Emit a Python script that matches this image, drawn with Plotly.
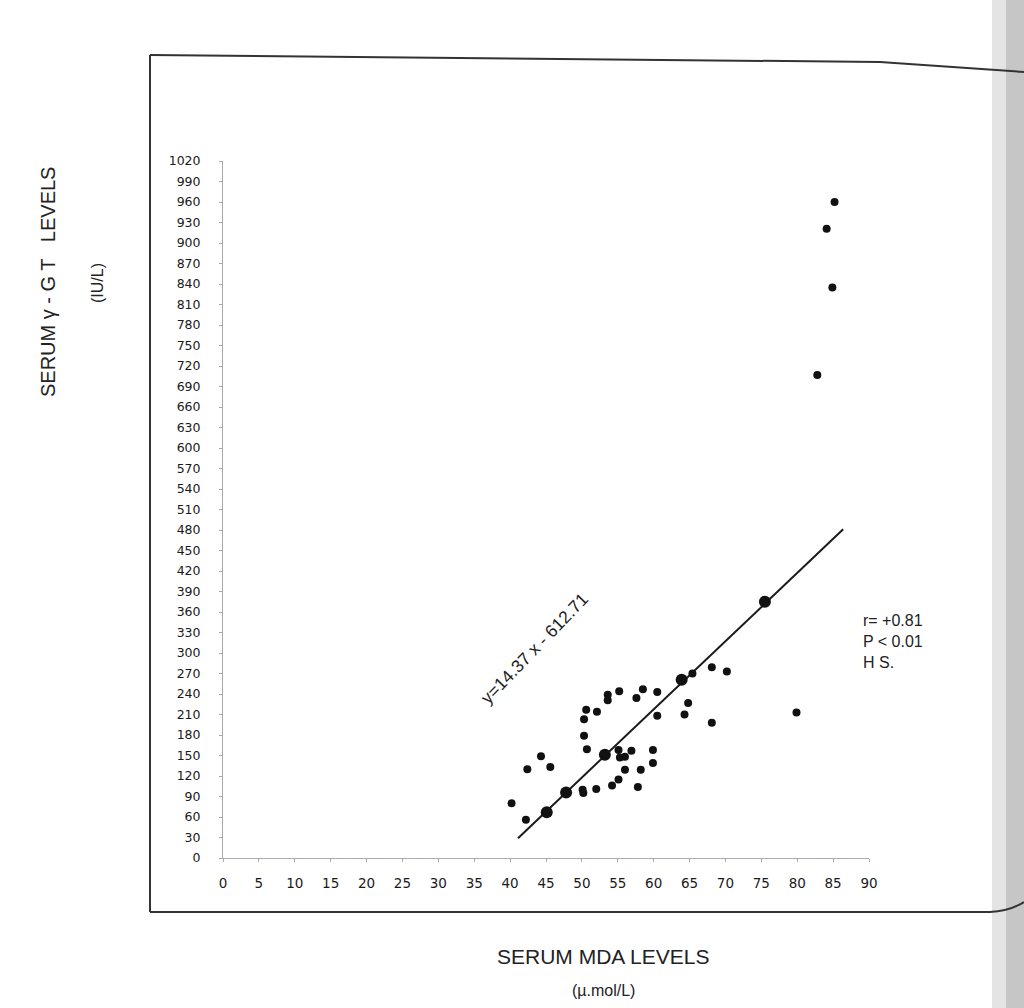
import plotly.graph_objects as go

# Data
mda = [40.2, 42.2, 42.4, 44.3, 45.6, 50.1, 50.2, 52.0, 50.6, 50.3, 52.1, 50.3, 50.7,
       53.6, 53.6, 55.2, 55.1, 55.3, 56.0, 56.9, 56.0, 55.1, 54.2, 57.8, 58.2, 57.6,
       58.5, 60.5, 59.9, 59.9, 60.5, 64.8, 64.3, 65.4, 68.1, 70.2, 68.1, 79.9,
       85.2, 84.1, 84.9, 82.8]
ggt = [80, 56, 130, 149, 133, 100, 95, 101, 217, 203, 214, 179, 159,
       239, 231, 244, 158, 147, 148, 157, 129, 115, 106, 104, 129, 234,
       247, 243, 158, 139, 208, 227, 210, 270, 279, 273, 198, 213,
       960, 921, 835, 707]
fit_pts_x = [45.1, 47.8, 53.2, 63.9, 75.5]
fit_pts_y = [67, 96, 151, 261, 375]
line_x = [41.1, 86.4]
line_y = [29, 481]
x_ticks = list(range(0, 91, 5))
y_ticks = list(range(0, 1021, 30))

W, H = 1024, 1008
L, R, T, B = 223, 869, 161, 858

def px(x):
    return (x - L) / (R - L)

def py(y):
    return (B - y) / (B - T)

fig = go.Figure()
fig.add_trace(go.Scatter(x=line_x, y=line_y, mode="lines",
                         line=dict(color="#1a1a1a", width=2), hoverinfo="skip"))
fig.add_trace(go.Scatter(x=mda, y=ggt, mode="markers",
                         marker=dict(color="#111111", size=8), cliponaxis=False))
fig.add_trace(go.Scatter(x=fit_pts_x, y=fit_pts_y, mode="markers",
                         marker=dict(color="#111111", size=12), cliponaxis=False))

font = "Liberation Sans, Arial, sans-serif"
tickfam = "DejaVu Sans, Arial, sans-serif"
fig.update_layout(
    width=W, height=H, showlegend=False,
    plot_bgcolor="white", paper_bgcolor="white",
    margin=dict(l=L, r=W - R, t=T, b=H - B),
    font=dict(family=font, color="#222222"),
    xaxis=dict(range=[0, 90], tickvals=x_ticks, ticktext=[str(v) for v in x_ticks],
               showgrid=False, zeroline=False, showline=True, linecolor="#aaaaaa",
               linewidth=1, ticks="outside", ticklen=3, tickcolor="#aaaaaa",
               tickfont=dict(size=13.5, color="#1a1a1a", family=tickfam), ticklabelstandoff=10),
    yaxis=dict(range=[0, 1020], tickvals=y_ticks, ticktext=[str(v) for v in y_ticks],
               showgrid=False, zeroline=False, showline=True, linecolor="#aaaaaa",
               linewidth=1, ticks="outside", ticklen=3, tickcolor="#aaaaaa",
               tickfont=dict(size=12.5, color="#1a1a1a", family=tickfam), ticklabelstandoff=16),
)

shapes = []
# page frame
shapes.append(dict(type="path", xref="paper", yref="paper",
                   path=f"M {px(150)},{py(55)} L {px(880)},{py(62)} L {px(1024)},{py(72)}",
                   line=dict(color="#333333", width=2)))
shapes.append(dict(type="line", xref="paper", yref="paper",
                   x0=px(150), y0=py(55), x1=px(150), y1=py(912),
                   line=dict(color="#333333", width=2)))
shapes.append(dict(type="path", xref="paper", yref="paper",
                   path=f"M {px(150)},{py(912)} L {px(990)},{py(912)} Q {px(1010)},{py(911)} {px(1024)},{py(902)}",
                   line=dict(color="#333333", width=2)))
# scanned page edge shadow
shapes.append(dict(type="rect", xref="paper", yref="paper",
                   x0=px(992), x1=px(1024), y0=py(0), y1=py(1008),
                   fillcolor="#e4e4e4", line=dict(width=0), layer="below"))
shapes.append(dict(type="rect", xref="paper", yref="paper",
                   x0=px(1006), x1=px(1024), y0=py(0), y1=py(1008),
                   fillcolor="#c6c6c6", line=dict(width=0), layer="below"))
fig.update_layout(shapes=shapes)

ann = [
    dict(text="y=14.37 x - 612.71", x=px(534), y=py(649), textangle=-46,
         font=dict(size=17.5)),
    dict(text="r= +0.81<br>P < 0.01<br>H S.", x=px(861), y=py(641), xanchor="left",
         align="left", font=dict(size=16)),
    dict(text="SERUM MDA LEVELS", x=px(603), y=py(956), font=dict(size=21)),
    dict(text="(\u00b5.mol/L)", x=px(603), y=py(990), font=dict(size=16)),
    dict(text="SERUM \u03b3 - G T   LEVELS", x=px(48), y=py(282), textangle=-90,
         font=dict(size=20)),
    dict(text="(IU/L)", x=px(97), y=py(283), textangle=-90, font=dict(size=16)),
]
for a in ann:
    a.update(xref="paper", yref="paper", showarrow=False)
    a.setdefault("xanchor", "center")
    a.setdefault("yanchor", "middle")
fig.update_layout(annotations=ann)

fig.write_html("out.html", config={"displayModeBar": False},
               post_script="document.body.style.margin='0';document.body.style.padding='0';")
